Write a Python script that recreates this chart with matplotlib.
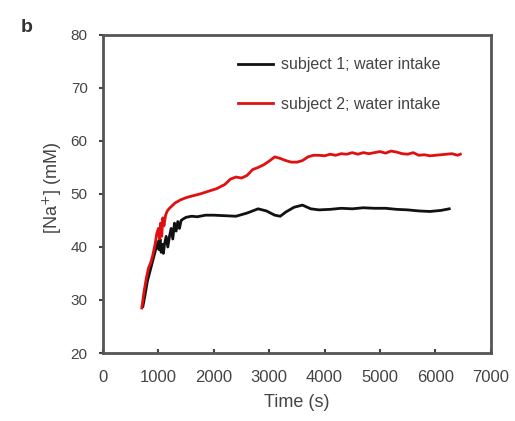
import numpy as np
import matplotlib as mpl
mpl.use('Agg')
import matplotlib.pyplot as plt

plt.rcParams['font.family'] = ['Liberation Sans', 'DejaVu Sans']

# subject 1 (black)
t_1 = [720, 760, 800, 850, 900, 950, 990, 1010, 1030, 1050, 1070, 1090, 1110, 1140,
       1170, 1200, 1230, 1260, 1290, 1320, 1350, 1380, 1410, 1450, 1500, 1600, 1700,
       1850, 2000, 2200, 2400, 2600, 2800, 2950, 3100, 3200, 3300, 3450, 3600, 3750,
       3900, 4100, 4300, 4500, 4700, 4900, 5100, 5300, 5500, 5700, 5900, 6100, 6250]
na_1 = [28.8, 31, 33.5, 35.5, 37.5, 39.5, 41, 39.5, 41.5, 39, 40.5, 38.8, 40.5, 42,
        40, 42, 43.5, 41.5, 44.5, 43, 44.8, 43.5, 45, 45.3, 45.6, 45.8, 45.7,
        46, 46, 45.9, 45.8, 46.4, 47.2, 46.8, 46, 45.8, 46.6, 47.5, 47.9, 47.2,
        47, 47.1, 47.3, 47.2, 47.4, 47.3, 47.3, 47.1, 47, 46.8, 46.7, 46.9, 47.2]

# subject 2 (red)
t_2 = [700, 740, 780, 820, 860, 900, 940, 970, 1000, 1020, 1040, 1060, 1080, 1100,
       1130, 1160, 1200, 1250, 1300, 1400, 1500, 1600, 1750, 1900, 2050, 2200, 2300,
       2400, 2500, 2600, 2700, 2800, 2900, 3000, 3100, 3200, 3300, 3400, 3500, 3600,
       3700, 3800, 3900, 4000, 4100, 4200, 4300, 4400, 4500, 4600, 4700, 4800, 4900,
       5000, 5100, 5200, 5300, 5400, 5500, 5600, 5700, 5800, 5900, 6000, 6100, 6200,
       6300, 6400, 6450]
na_2 = [28.5, 31.5, 34, 36, 37, 38.5, 40.5, 42.5, 43.5, 41.5, 44.5, 42, 45.5, 44,
        46, 46.8, 47.3, 47.8, 48.3, 48.9, 49.3, 49.6, 50, 50.5, 51, 51.8, 52.8,
        53.2, 53, 53.5, 54.6, 55, 55.5, 56.2, 57, 56.7, 56.3, 56, 56, 56.3,
        57, 57.3, 57.3, 57.2, 57.5, 57.3, 57.6, 57.5, 57.8, 57.5, 57.8, 57.6, 57.8,
        58, 57.7, 58.1, 57.9, 57.6, 57.5, 57.8, 57.3, 57.4, 57.2, 57.3, 57.4, 57.5,
        57.6, 57.3, 57.5]

x_ticks = [0, 1000, 2000, 3000, 4000, 5000, 6000, 7000]
y_ticks = [20, 30, 40, 50, 60, 70, 80]

fig = plt.figure(figsize=(5.15, 4.21), dpi=100)
ax = fig.add_axes([0.2, 0.1615, 0.753, 0.7555])

ax.plot(t_1, na_1, color='#111111', lw=2, label='subject 1; water intake')
ax.plot(t_2, na_2, color='#e01010', lw=2, label='subject 2; water intake')

ax.set_xlim(0, 7000)
ax.set_ylim(20, 80)
ax.set_xticks(x_ticks)
ax.set_yticks(y_ticks)
ax.tick_params(colors='#444444', length=3, width=1.5)
ax.tick_params(axis='x', direction='in', pad=12, labelsize=12)
ax.tick_params(axis='y', pad=8, labelsize=11)
for s in ax.spines.values():
    s.set_color('#555555')
    s.set_linewidth(2)

ax.set_xlabel('Time (s)', fontsize=13, color='#444444', labelpad=7)
ax.set_ylabel('[Na$^{+}$] (mM)', fontsize=13, color='#444444')
ax.yaxis.set_label_coords(-0.10, 0.52)

leg = ax.legend(loc='upper left', frameon=False, fontsize=11.5, handlelength=2.2,
                handletextpad=0.5, labelspacing=1.55, borderpad=0, borderaxespad=0,
                bbox_to_anchor=(0.348, 0.93))
for txt in leg.get_texts():
    txt.set_color('#444444')

fig.text(0.04, 0.925, 'b', fontsize=14, fontweight='bold', color='#333333')

fig.savefig('out.png', dpi=100)
